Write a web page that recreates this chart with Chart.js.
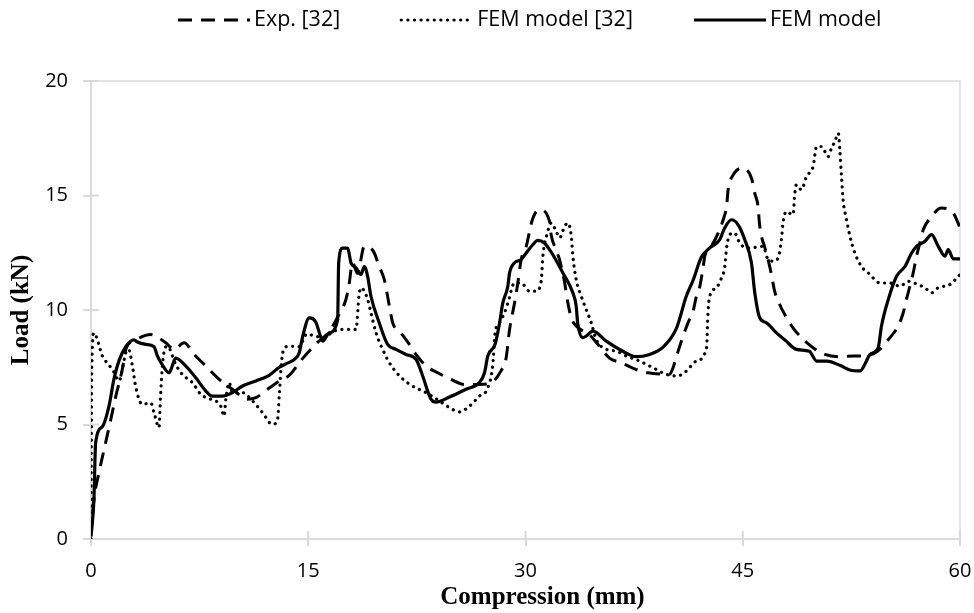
<!DOCTYPE html>
<html>
<head>
<meta charset="utf-8">
<script src="https://cdn.jsdelivr.net/npm/chart.js@4.4.0/dist/chart.umd.min.js"></script>
<style>
  html, body { margin: 0; padding: 0; background: #fff; }
  #wrap { width: 974px; height: 613px; }
</style>
</head>
<body>
<div id="wrap"><canvas id="loadChart" width="974" height="613"></canvas></div>
<script>
// ---- axis ticks ----
const xTickValues = [0, 15, 30, 45, 60];
const yTickValues = [0, 5, 10, 15, 20];

// ---- Exp. [32] (dashed) ----
const expX = [0, 0.2, 0.55, 0.9, 1.36, 1.7, 2.16, 2.4, 3.1, 4.13, 5.16, 5.74, 6.43, 7.12, 7.93, 8.85, 9.77, 10.8,
  11.38, 12.19, 13.0, 13.69, 14.5, 15.5, 16.5, 17.03, 17.6, 17.8, 18.06, 18.4, 18.87, 19.2, 19.56, 19.9, 20.25,
  20.6, 20.83, 21.4, 21.98, 22.44, 23.14, 23.94, 24.86, 25.78, 26.82, 27.63, 28.3, 28.66, 28.9, 29.24, 29.47,
  29.7, 30.05, 30.28, 30.5, 30.97, 31.66, 31.77, 32.1, 32.35, 32.7, 32.93, 33.16, 33.5, 34.4, 35.1, 35.8, 36.6,
  37.65, 38.45, 39.5, 39.95, 40.2, 40.5, 40.8, 41.22, 41.57, 41.8, 42.04, 42.27, 42.38, 42.83, 43.3, 43.65,
  43.88, 43.99, 44.34, 45.0, 45.6, 45.83, 46.06, 46.15, 46.3, 46.5, 46.75, 46.98, 47.2, 47.55, 47.9, 48.47,
  49.05, 49.86, 50.67, 51.7, 52.6, 53.5, 54.3, 55.16, 55.73, 56.08, 56.3, 56.54, 56.77, 57.0, 57.23, 57.46,
  57.93, 58.73, 59.54, 60];
const expY = [0.2, 1.7, 2.9, 3.9, 5.2, 6.2, 7.4, 8.28, 8.7, 8.93, 8.57, 8.28, 8.57, 8.06, 7.55, 6.97, 6.54, 6.1,
  6.17, 6.54, 6.9, 7.15, 7.8, 8.5, 9.1, 9.7, 10.46, 11.04, 12.06, 11.6, 12.78, 12.75, 12.49, 11.9, 11.33,
  10.17, 9.44, 9.0, 8.5, 8.06, 7.55, 7.26, 6.97, 6.75, 6.75, 6.83, 7.33, 7.9, 9.15, 10.3, 11.18,
  12.2, 12.78, 13.43, 14.0, 14.38, 13.87, 13.29, 12.64, 12.2, 11.2, 10.3, 9.66, 9.3, 8.93, 8.42, 7.9, 7.7,
  7.4, 7.26, 7.2, 7.19, 7.5, 8.13, 8.71, 9.44, 9.95, 10.6, 11.04, 11.9, 12.35, 12.78, 13.36, 13.94,
  14.52, 15.25, 15.9, 16.2, 15.76, 15.1, 14.5, 13.8, 13.2, 12.78, 12.2, 11.55, 10.82, 10.24, 9.8, 9.22,
  8.79, 8.35, 8.06, 7.96, 7.99, 8.0, 8.2, 8.79, 9.3, 9.88, 10.46, 11.04, 11.62, 12.35, 12.93, 13.5,
  14.0, 14.45, 14.23, 13.6];

// ---- FEM model [32] (dotted) ----
const femRefX = [0, 0.02, 0.05, 0.2, 0.44, 0.78, 1.24, 1.6, 1.94, 2.16, 2.4, 2.6, 2.86, 3.1, 3.55, 4.13, 4.35, 4.7,
  4.8, 4.93, 5.05, 5.27, 5.85, 6.3, 7.0, 7.58, 8.27, 8.62, 8.96, 9.19, 9.31, 9.54, 9.77, 10.46, 11.15, 11.84,
  12.53, 12.88, 13.0, 13.15, 13.34, 13.8, 14.38, 14.9, 15.45, 16.1, 16.6, 17.14, 17.6, 18.3, 18.5, 18.64,
  18.87, 19.1, 19.33, 19.68, 20.14, 20.6, 21.3, 22.2, 23.14, 24.05, 24.75, 25.44, 26.13, 26.82, 27.4, 27.74,
  27.9, 28.2, 28.55, 28.78, 29.24, 29.7, 30.28, 30.74, 31.08, 31.2, 31.54, 31.77, 32.12, 32.35, 32.7, 32.93,
  33.16, 33.27, 33.5, 33.85, 34.19, 34.54, 34.88, 35.58, 36.27, 36.96, 37.88, 38.8, 39.72, 40.5, 41.1, 41.8,
  42.5, 42.6, 42.72, 43.18, 43.53, 43.76, 43.87, 44.1, 44.45, 44.67, 45.0, 45.5, 46.4, 46.75, 47.1, 47.44,
  47.67, 47.78, 48.0, 48.47, 48.6, 48.7, 49.05, 49.4, 49.86, 50.1, 50.44, 50.9, 51.13, 51.36, 51.6, 51.7,
  51.82, 51.93, 52.17, 52.4, 52.74, 53.2, 53.78, 54.47, 55.16, 55.85, 56.43, 57.1, 57.58, 58.04, 58.5, 59.3, 60];
const femRefY = [0, 3.5, 7.3, 9.0, 8.7, 8.0, 7.6, 7.27, 6.9, 7.4, 8.13, 8.28, 7.55, 6.6, 5.88, 5.95, 5.52, 4.87,
  6.24, 7.55, 8.2, 8.42, 7.62, 7.19, 6.83, 6.32, 6.1, 6.03, 5.8, 5.37, 6.1, 6.83, 6.39, 6.39, 6.03, 5.52,
  5.0, 5.2, 6.3, 7.7, 8.35, 8.42, 8.4, 8.95, 8.86, 8.8, 9.0, 9.15, 9.15, 9.15, 10.6, 10.97,
  10.82, 10.46, 9.88, 9.0, 8.28, 7.7, 7.12, 6.68, 6.39, 6.03, 5.74, 5.55, 5.8, 6.24, 6.6, 7.6,
  9.0, 9.44, 9.88, 10.3, 11.18, 11.18, 10.82, 10.82, 11.25, 12.35, 13.43, 13.8, 13.43, 13.15, 13.65, 13.8,
  13.22, 12.35, 11.33, 10.6, 10.02, 9.44, 8.71, 8.28, 8.2, 7.99, 7.77, 7.48, 7.19, 7.12, 7.33, 7.77,
  8.35, 9.88, 10.6, 10.97, 11.4, 11.9, 12.64, 13.29, 13.36, 13.07, 12.78, 12.71, 12.78, 12.2, 12.13, 12.27,
  13.07, 13.8, 14.3, 14.16, 15.1, 15.47, 15.25, 15.83, 16.27, 17.14, 17.14, 16.7, 17.07, 17.36, 17.72, 17.0,
  15.83, 14.8, 13.94, 13.22, 12.49, 11.9, 11.55, 11.18, 11.18, 11.04, 11.25, 11.11, 10.97, 10.75, 10.97, 11.11, 11.55];

// ---- FEM model (solid) ----
const femX = [0, 0.2, 0.32, 0.78, 1.24, 1.59, 1.94, 2.4, 2.97, 3.2, 3.78, 4.35, 4.58, 4.93, 5.39, 5.85, 6.55, 7.24,
  7.93, 8.38, 9.08, 9.77, 10.46, 11.38, 12.3, 13.0, 13.46, 14.03, 14.38, 14.6, 15.07, 15.5, 15.88, 16.0, 16.45,
  17.03, 17.1, 17.37, 17.72, 17.95, 18.3, 18.64, 18.87, 19.1, 19.33, 19.9, 20.48, 21.06, 21.75, 22.45, 22.9,
  23.48, 23.83, 24.75, 25.9, 26.82, 27.17, 27.4, 27.9, 28.2, 28.43, 28.78, 28.9, 29.24, 29.7, 30.05, 30.5,
  30.85, 31.3, 31.66, 31.9, 32.58, 33.27, 33.5, 33.6, 33.96, 34.19, 34.65, 35.58, 36.72, 37.65, 38.57, 39.5,
  40.42, 41.1, 41.57, 42.14, 42.72, 43.41, 43.75, 44.22, 44.67, 45.14, 45.6, 45.83, 46.17, 46.64, 47.33, 48.0,
  48.7, 49.6, 50.1, 50.8, 51.82, 52.4, 53.1, 53.43, 53.78, 54.35, 54.58, 55.05, 55.62, 56.2, 56.66, 57.0,
  57.58, 58.04, 58.5, 58.96, 59.19, 59.54, 60];
const femY = [0.1, 1.7, 4.2, 4.9, 5.8, 7.0, 7.8, 8.4, 8.7, 8.6, 8.5, 8.4, 8.0, 7.6, 7.26, 7.9, 7.55, 7.04,
  6.46, 6.24, 6.24, 6.39, 6.68, 6.9, 7.15, 7.5, 7.65, 7.84, 8.13, 8.8, 9.66, 9.5, 8.79, 8.64, 9.0,
  9.59, 12.06, 12.7, 12.7, 12.06, 11.84, 11.55, 11.9, 11.47, 10.6, 9.44, 8.5, 8.28, 8.06, 7.84, 7.12,
  6.1, 5.98, 6.2, 6.54, 6.83, 7.26, 8.0, 8.5, 9.4, 10.3, 11.04, 11.62, 12.06, 12.2, 12.49, 12.85,
  13.04, 12.93, 12.64, 12.4, 11.62, 10.75, 10.17, 9.44, 8.79, 8.86, 9.08, 8.64, 8.2, 7.96, 8.06, 8.38,
  9.2, 10.6, 11.3, 12.3, 12.71, 13.07, 13.58, 13.94, 13.73, 13.07, 12.06, 10.75, 9.66, 9.44, 9.0, 8.64,
  8.28, 8.2, 7.77, 7.77, 7.55, 7.38, 7.34, 7.63, 8.06, 8.35, 9.3, 10.46, 11.47, 11.9, 12.49, 12.78,
  13.0, 13.29, 12.78, 12.35, 12.64, 12.23, 12.23];

const xTitle = 'Compression (mm)';
const yTitle = 'Load (kN)';

function toPoints(xs, ys) {
  return xs.map((x, i) => ({ x: x, y: ys[i] }));
}

// light grey frame round the plot, plus the inner half of each tick mark
const framePlugin = {
  id: 'frame',
  beforeDatasetsDraw(chart) {
    const { ctx, chartArea: a, scales } = chart;
    ctx.save();
    ctx.strokeStyle = '#dcdcdc';
    ctx.lineWidth = 1.5;
    ctx.strokeRect(a.left, a.top, a.right - a.left, a.bottom - a.top);
    ctx.strokeStyle = '#d9d9d9';
    ctx.lineWidth = 2;
    ctx.beginPath();
    scales.x.ticks.forEach(t => {
      const px = scales.x.getPixelForValue(t.value);
      ctx.moveTo(px, a.bottom);
      ctx.lineTo(px, a.bottom - 8);
    });
    scales.y.ticks.forEach(t => {
      const py = scales.y.getPixelForValue(t.value);
      ctx.moveTo(a.left, py);
      ctx.lineTo(a.left + 8, py);
    });
    ctx.stroke();
    ctx.restore();
  }
};

// legend row on top + the x axis title (sits a bit right of centre in the original)
const legendPlugin = {
  id: 'lineLegend',
  afterDraw(chart) {
    const ctx = chart.ctx;
    const y = 20;
    let x = 178;
    ctx.save();
    ctx.font = '21.5px "Open Sans"';
    ctx.textBaseline = 'middle';
    ctx.textAlign = 'left';
    chart.data.datasets.forEach(ds => {
      ctx.beginPath();
      ctx.setLineDash(ds.borderDash || []);
      ctx.lineCap = ds.borderCapStyle || 'butt';
      ctx.lineWidth = ds.borderWidth;
      ctx.strokeStyle = ds.borderColor;
      ctx.moveTo(x, y);
      ctx.lineTo(x + 72, y);
      ctx.stroke();
      ctx.setLineDash([]);
      ctx.fillStyle = '#000';
      ctx.fillText(ds.label, x + 76, y);
      x += 76 + ctx.measureText(ds.label).width + 61;
    });

    const a = chart.chartArea;
    ctx.font = 'bold 25px "Liberation Serif"';
    ctx.textAlign = 'center';
    ctx.fillText(xTitle, (a.left + a.right) / 2 + 17, 598);
    ctx.restore();
  }
};

const tickFont = { family: '"Open Sans"', size: 20 };
const titleFont = { family: '"Liberation Serif"', size: 25, weight: 'bold' };

new Chart(document.getElementById('loadChart'), {
  type: 'line',
  data: {
    datasets: [
      {
        label: 'Exp. [32]',
        data: toPoints(expX, expY),
        borderColor: '#000',
        borderWidth: 3,
        borderDash: [14, 9],
        pointRadius: 0,
        fill: false,
        cubicInterpolationMode: 'monotone'
      },
      {
        label: 'FEM model [32]',
        data: toPoints(femRefX, femRefY),
        borderColor: '#000',
        borderWidth: 3.2,
        borderDash: [0.1, 6.5],
        borderCapStyle: 'round',
        pointRadius: 0,
        fill: false,
        cubicInterpolationMode: 'monotone'
      },
      {
        label: 'FEM model',
        data: toPoints(femX, femY),
        borderColor: '#000',
        borderWidth: 3.2,
        pointRadius: 0,
        fill: false,
        cubicInterpolationMode: 'monotone'
      }
    ]
  },
  options: {
    responsive: false,
    animation: false,
    layout: { padding: { top: 81, right: 14, bottom: 0, left: 0 } },
    plugins: {
      legend: { display: false },
      tooltip: { enabled: false }
    },
    scales: {
      x: {
        type: 'linear',
        min: 0,
        max: 60,
        afterBuildTicks: scale => { scale.ticks = xTickValues.map(v => ({ value: v })); },
        afterFit: scale => {
          scale.height = 74;
          scale.paddingLeft = 0;
          scale.paddingRight = 0;
        },
        ticks: { color: '#000', font: tickFont, padding: 13, maxRotation: 0 },
        grid: { display: true, drawOnChartArea: false, drawTicks: true, tickLength: 7, color: '#d9d9d9', lineWidth: 2 },
        border: { display: true, color: '#d9d9d9', width: 2 },
        title: { display: false }
      },
      y: {
        min: 0,
        max: 20,
        afterBuildTicks: scale => { scale.ticks = yTickValues.map(v => ({ value: v })); },
        afterFit: scale => { scale.width = 91; },
        ticks: { color: '#000', font: tickFont, padding: 15 },
        grid: { display: true, drawOnChartArea: false, drawTicks: true, tickLength: 8, color: '#d9d9d9', lineWidth: 2 },
        border: { display: true, color: '#d9d9d9', width: 2 },
        title: { display: true, text: yTitle, color: '#000', font: titleFont, padding: { top: 7, bottom: 0 } }
      }
    }
  },
  plugins: [framePlugin, legendPlugin]
});
</script>
</body>
</html>
